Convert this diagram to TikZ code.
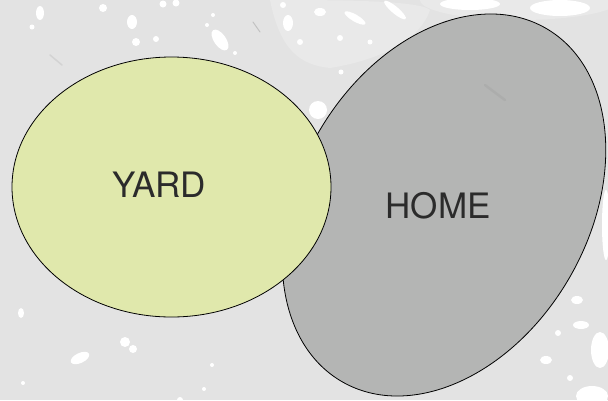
\documentclass[tikz,border=0pt]{standalone}
\usepackage{fontspec}
\setmainfont{TeX Gyre Heros}
\usetikzlibrary{shapes.geometric}
\definecolor{bgc}{HTML}{E3E3E3}
\definecolor{bgl}{HTML}{E9E9E9}
\definecolor{yardc}{HTML}{E0E8AC}
\definecolor{homec}{HTML}{B4B5B4}
\definecolor{txtc}{HTML}{2B2B2B}
\definecolor{smudge}{HTML}{A8A8A8}
\tikzset{
  blob/.style={fill=white},
  region/.style={draw=black, line width=0.8pt, ellipse, inner sep=0pt, outer sep=0pt},
  label/.style={text=txtc, font=\fontsize{35}{40}\selectfont, inner sep=0pt}
}
\begin{document}
\begin{tikzpicture}[x=1pt,y=-1pt]
\useasboundingbox (0,0) rectangle (608,400);
\fill[bgc] (0,0) rectangle (608,400);
% lighter mottled area at top
\fill[bgl] (270,0) .. controls (330,0) and (420,0) .. (430,10) .. controls (420,40) and (380,60) .. (330,68) .. controls (300,65) and (280,50) .. (270,0);
% background splotches
\fill[blob] (40,13) ellipse[x radius=4, y radius=7];
\fill[blob] (32,27) circle[radius=2.5];
\fill[blob] (103,8) circle[radius=4];
\fill[blob] (132,22) ellipse[x radius=5, y radius=7];
\fill[blob] (136,42) circle[radius=4];
\fill[blob] (156,39) circle[radius=3];
\fill[blob] (163,4) circle[radius=3.5];
\fill[blob] (176,3) circle[radius=3.5];
\fill[blob, rotate around={-55:(220,40)}] (220,40) ellipse[x radius=12, y radius=6];
\fill[blob] (213,15) circle[radius=2];
\fill[blob] (207,25) circle[radius=2];
\fill[blob] (235,53) circle[radius=2];
\fill[blob] (288,23) ellipse[x radius=5, y radius=8];
\fill[blob] (283,5) circle[radius=3];
\fill[blob] (300,42) circle[radius=3];
\fill[blob] (318,110) circle[radius=9];
\fill[blob] (341,72) circle[radius=2.5];
\fill[blob] (320,12) ellipse[x radius=6, y radius=4];
\fill[blob, rotate around={-30:(355,18)}] (355,18) ellipse[x radius=12, y radius=3.5];
\fill[blob, rotate around={-40:(395,10)}] (395,10) ellipse[x radius=14, y radius=3.5];
\fill[blob] (340,38) circle[radius=3];
\fill[blob] (370,42) circle[radius=2.5];
\fill[bgl] (520,0) ellipse[x radius=100, y radius=20];
\fill[blob] (470,4) ellipse[x radius=30, y radius=6];
\fill[blob] (560,8) ellipse[x radius=30, y radius=8];
\fill[blob] (21,313) ellipse[x radius=3, y radius=5];
\fill[blob] (125,342) circle[radius=5];
\fill[blob] (133,349) circle[radius=4];
\fill[blob, rotate around={25:(80,358)}] (80,358) ellipse[x radius=10, y radius=5];
\fill[blob] (23,383) circle[radius=2];
\fill[blob] (212,365) circle[radius=2];
\fill[blob] (204,389) circle[radius=2];
\fill[blob] (180,400) circle[radius=3];
\fill[blob] (606,225) ellipse[x radius=4, y radius=35];
\fill[blob] (577,300) ellipse[x radius=6, y radius=4];
\fill[blob] (581,325) ellipse[x radius=8, y radius=4];
\fill[blob] (558,333) circle[radius=3];
\fill[blob] (546,360) ellipse[x radius=6, y radius=4];
\fill[blob] (600,350) ellipse[x radius=9, y radius=18];
\fill[blob] (592,396) ellipse[x radius=16, y radius=10];
\fill[blob] (570,378) circle[radius=3];
% faint smudges
\draw[smudge!50, line width=1.5pt, line cap=round] (50,55) -- (62,65);
\draw[smudge!70, line width=1pt, line cap=round] (253,22) -- (260,32);
% regions
\node[region, fill=homec, minimum width=408pt, minimum height=290pt, rotate=60] (home) at (444,205) {};
\draw[smudge, line width=2.5pt, line cap=round, opacity=0.6] (485,85) -- (505,100);
\node[region, fill=yardc, minimum width=319pt, minimum height=260pt] (yard) at (171.5,187) {};
% labels
\node[label] (yardlabel) at (159,185) {YARD};
\node[label] (homelabel) at (438,206) {HOME};
\end{tikzpicture}
\end{document}
